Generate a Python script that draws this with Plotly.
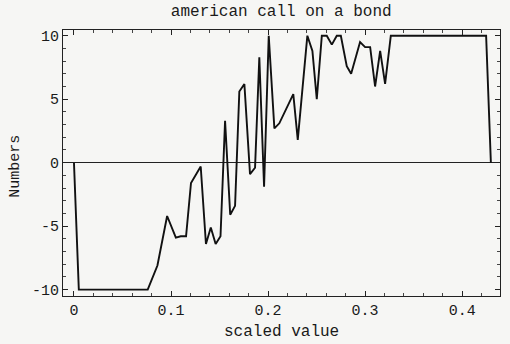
import plotly.graph_objects as go

x_vals = [0.000, 0.005, 0.076, 0.086, 0.096, 0.105, 0.110, 0.1155, 0.1206, 0.1306,
          0.136, 0.141, 0.146, 0.151, 0.1557, 0.161, 0.166, 0.1704, 0.1756, 0.1814,
          0.1866, 0.191, 0.1959, 0.2007, 0.2065, 0.2116, 0.226, 0.2306, 0.2405, 0.2457,
          0.2502, 0.2554, 0.2605, 0.2657, 0.2708, 0.275, 0.2811, 0.2856, 0.2948, 0.300,
          0.3052, 0.3103, 0.3155, 0.3206, 0.3265, 0.4247, 0.4296]
y_vals = [0, -10, -10, -8.1, -4.2, -5.9, -5.8, -5.8, -1.6, -0.3,
          -6.4, -5.1, -6.4, -5.8, 3.3, -4.1, -3.4, 5.6, 6.2, -0.9,
          -0.4, 8.3, -1.9, 10, 2.7, 3.1, 5.4, 1.8, 10, 8.8,
          5.0, 10, 10, 9.3, 10, 10, 7.6, 7.0, 9.5, 9.1,
          9.1, 6.0, 8.8, 6.2, 10, 10, 0]

x_ticks = [0, 0.1, 0.2, 0.3, 0.4]
x_tick_labels = ["0", "0.1", "0.2", "0.3", "0.4"]
y_ticks = [-10, -5, 0, 5, 10]
y_tick_labels = ["-10", "-5", "0", "5", "10"]

title_text = "american call on a bond"
x_title = "scaled value"
y_title = "Numbers"

FONT = "Liberation Mono, Courier New, monospace"
BG = "#f6f6f4"
INK = "#1a1a1a"

fig = go.Figure()
fig.add_trace(go.Scatter(x=x_vals, y=y_vals, mode="lines",
                         line=dict(color="#111111", width=1.9),
                         showlegend=False, hoverinfo="skip"))

fig.update_layout(
    width=510, height=344,
    margin=dict(l=63, r=10, t=30, b=48, autoexpand=False),
    paper_bgcolor=BG, plot_bgcolor=BG,
    font=dict(family=FONT, color=INK, size=15),
    title=dict(text=title_text, x=0.5515, xanchor="center", y=0.985, yanchor="top",
               font=dict(family=FONT, size=16, color=INK)),
    xaxis=dict(range=[-0.0113, 0.439], tickvals=x_ticks, ticktext=x_tick_labels,
               ticks="inside", ticklen=5, tickcolor="#222", showline=True,
               linecolor="#222", linewidth=1, mirror="allticks", showgrid=False,
               zeroline=False, automargin=False,
               minor=dict(dtick=0.02, tick0=0, ticks="inside", ticklen=3, tickcolor="#444"),
               tickfont=dict(family=FONT, size=15)),
    yaxis=dict(range=[-10.5, 10.45], tickvals=y_ticks, ticktext=y_tick_labels,
               ticks="inside", ticklen=5, tickcolor="#222", showline=True,
               linecolor="#222", linewidth=1, mirror="allticks", showgrid=False,
               zeroline=True, zerolinecolor="#222", zerolinewidth=1.2, automargin=False,
               minor=dict(dtick=1, tick0=0, ticks="inside", ticklen=3, tickcolor="#444"),
               tickfont=dict(family=FONT, size=15)),
    annotations=[
        dict(text=x_title, xref="paper", yref="paper", x=0.5, y=-0.135,
             xanchor="center", yanchor="middle", showarrow=False,
             font=dict(family=FONT, size=16, color=INK)),
        dict(text=y_title, xref="paper", yref="paper", x=-0.1076, y=0.49,
             xanchor="center", yanchor="middle", showarrow=False, textangle=-90,
             font=dict(family=FONT, size=15, color=INK)),
    ],
)

fig.write_html("out.html", config={"displayModeBar": False},
               post_script="document.body.style.margin='0';")
